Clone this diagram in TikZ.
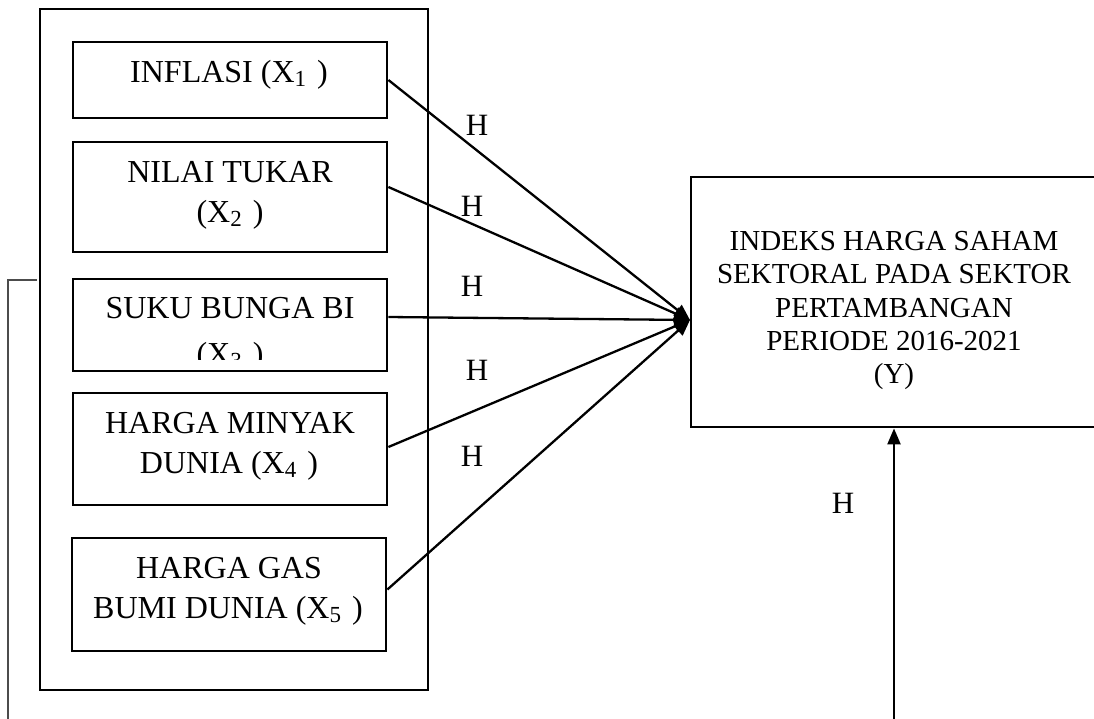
\documentclass[tikz,border=0pt]{standalone}
\usepackage{fontspec}
\setmainfont{Liberation Serif}
\usetikzlibrary{arrows.meta,calc}
\newcommand{\subdig}[1]{\raisebox{-4pt}{\fontsize{23pt}{23pt}\selectfont #1}}
\tikzset{
  box/.style={draw, line width=2.8pt, inner sep=0pt},
  ltxt/.style={anchor=base, inner sep=0pt, font=\fontsize{32pt}{40pt}\selectfont},
  ytxt/.style={anchor=base, inner sep=0pt, font=\fontsize{29pt}{33pt}\selectfont},
  hlab/.style={inner sep=0pt, font=\fontsize{31pt}{31pt}\selectfont},
  conn/.style={line width=2.3pt, -{Triangle[length=16pt,width=13pt]}},
  thin/.style={line width=1.1pt, draw=black!70}
}
\begin{document}
\begin{tikzpicture}[x=1pt,y=-1pt]
\useasboundingbox (0,0) rectangle (1094,718);
\clip (0,0) rectangle (1094,718);
% outer container
\node[box, minimum width=388pt, minimum height=681pt] (outer) at (234,349.5) {};
% inner boxes
\node[box, minimum width=314pt, minimum height=76pt]  (b1) at (230,80) {};
\node[box, minimum width=314pt, minimum height=110pt] (b2) at (230,197) {};
\node[box, minimum width=314pt, minimum height=92pt]  (b3) at (230,325) {};
\node[box, minimum width=314pt, minimum height=112pt] (b4) at (230,449) {};
\node[box, minimum width=314pt, minimum height=113pt] (b5) at (229,594.5) {};
% target box
\node[box, minimum width=406pt, minimum height=250pt] (yb) at (894,302) {};
% texts of inner boxes
\node[ltxt] (t1) at (229,82) {INFLASI (X\subdig{1}\hspace{11pt})};
\node[ltxt] (t2a) at (230,182) {NILAI TUKAR};
\node[ltxt] (t2b) at (230,222) {(X\subdig{2}\hspace{11pt})};
\node[ltxt] (t3a) at (230,318) {SUKU BUNGA BI};
\begin{scope}
  \clip (73,279) rectangle (387,359);
  \node[ltxt] (t3b) at (230,364) {(X\subdig{3}\hspace{11pt})};
\end{scope}
\node[ltxt] (t4a) at (230,433) {HARGA MINYAK};
\node[ltxt] (t4b) at (229,473) {DUNIA (X\subdig{4}\hspace{11pt})};
\node[ltxt] (t5a) at (229,578) {HARGA GAS};
\node[ltxt] (t5b) at (228,618) {BUMI DUNIA (X\subdig{5}\hspace{11pt})};
% texts of target box
\node[ytxt] (y1) at (894,250) {INDEKS HARGA SAHAM};
\node[ytxt] (y2) at (894,283) {SEKTORAL PADA SEKTOR};
\node[ytxt] (y3) at (894,317) {PERTAMBANGAN};
\node[ytxt] (y4) at (894,350) {PERIODE 2016-2021};
\node[ytxt] (y5) at (894,383) {(Y)};
% convergence point and free ends
\coordinate (tip) at (690,320);
\coordinate (ybot) at (894,722);
\coordinate (bk1) at (37,280);
\coordinate (bk2) at (8,280);
\coordinate (bk3) at (8,722);
% connectors
\draw[conn] (b1.east) -- (tip);
\draw[conn] ([yshift=10pt]b2.east) -- (tip);
\draw[conn] ([yshift=8pt]b3.east) -- (tip);
\draw[conn] ([yshift=2pt]b4.east) -- (tip);
\draw[conn] ([yshift=5pt]b5.east) -- (tip);
\draw[conn] (ybot) -- (yb.south);
\draw[thin] (bk1) -- (bk2) -- (bk3);
% labels
\node[hlab] (h1) at (477,125.5) {H};
\node[hlab] (h2) at (472,206) {H};
\node[hlab] (h3) at (472,286.5) {H};
\node[hlab] (h4) at (477,370) {H};
\node[hlab] (h5) at (472,456) {H};
\node[hlab] (h6) at (843,503) {H};
\end{tikzpicture}
\end{document}
